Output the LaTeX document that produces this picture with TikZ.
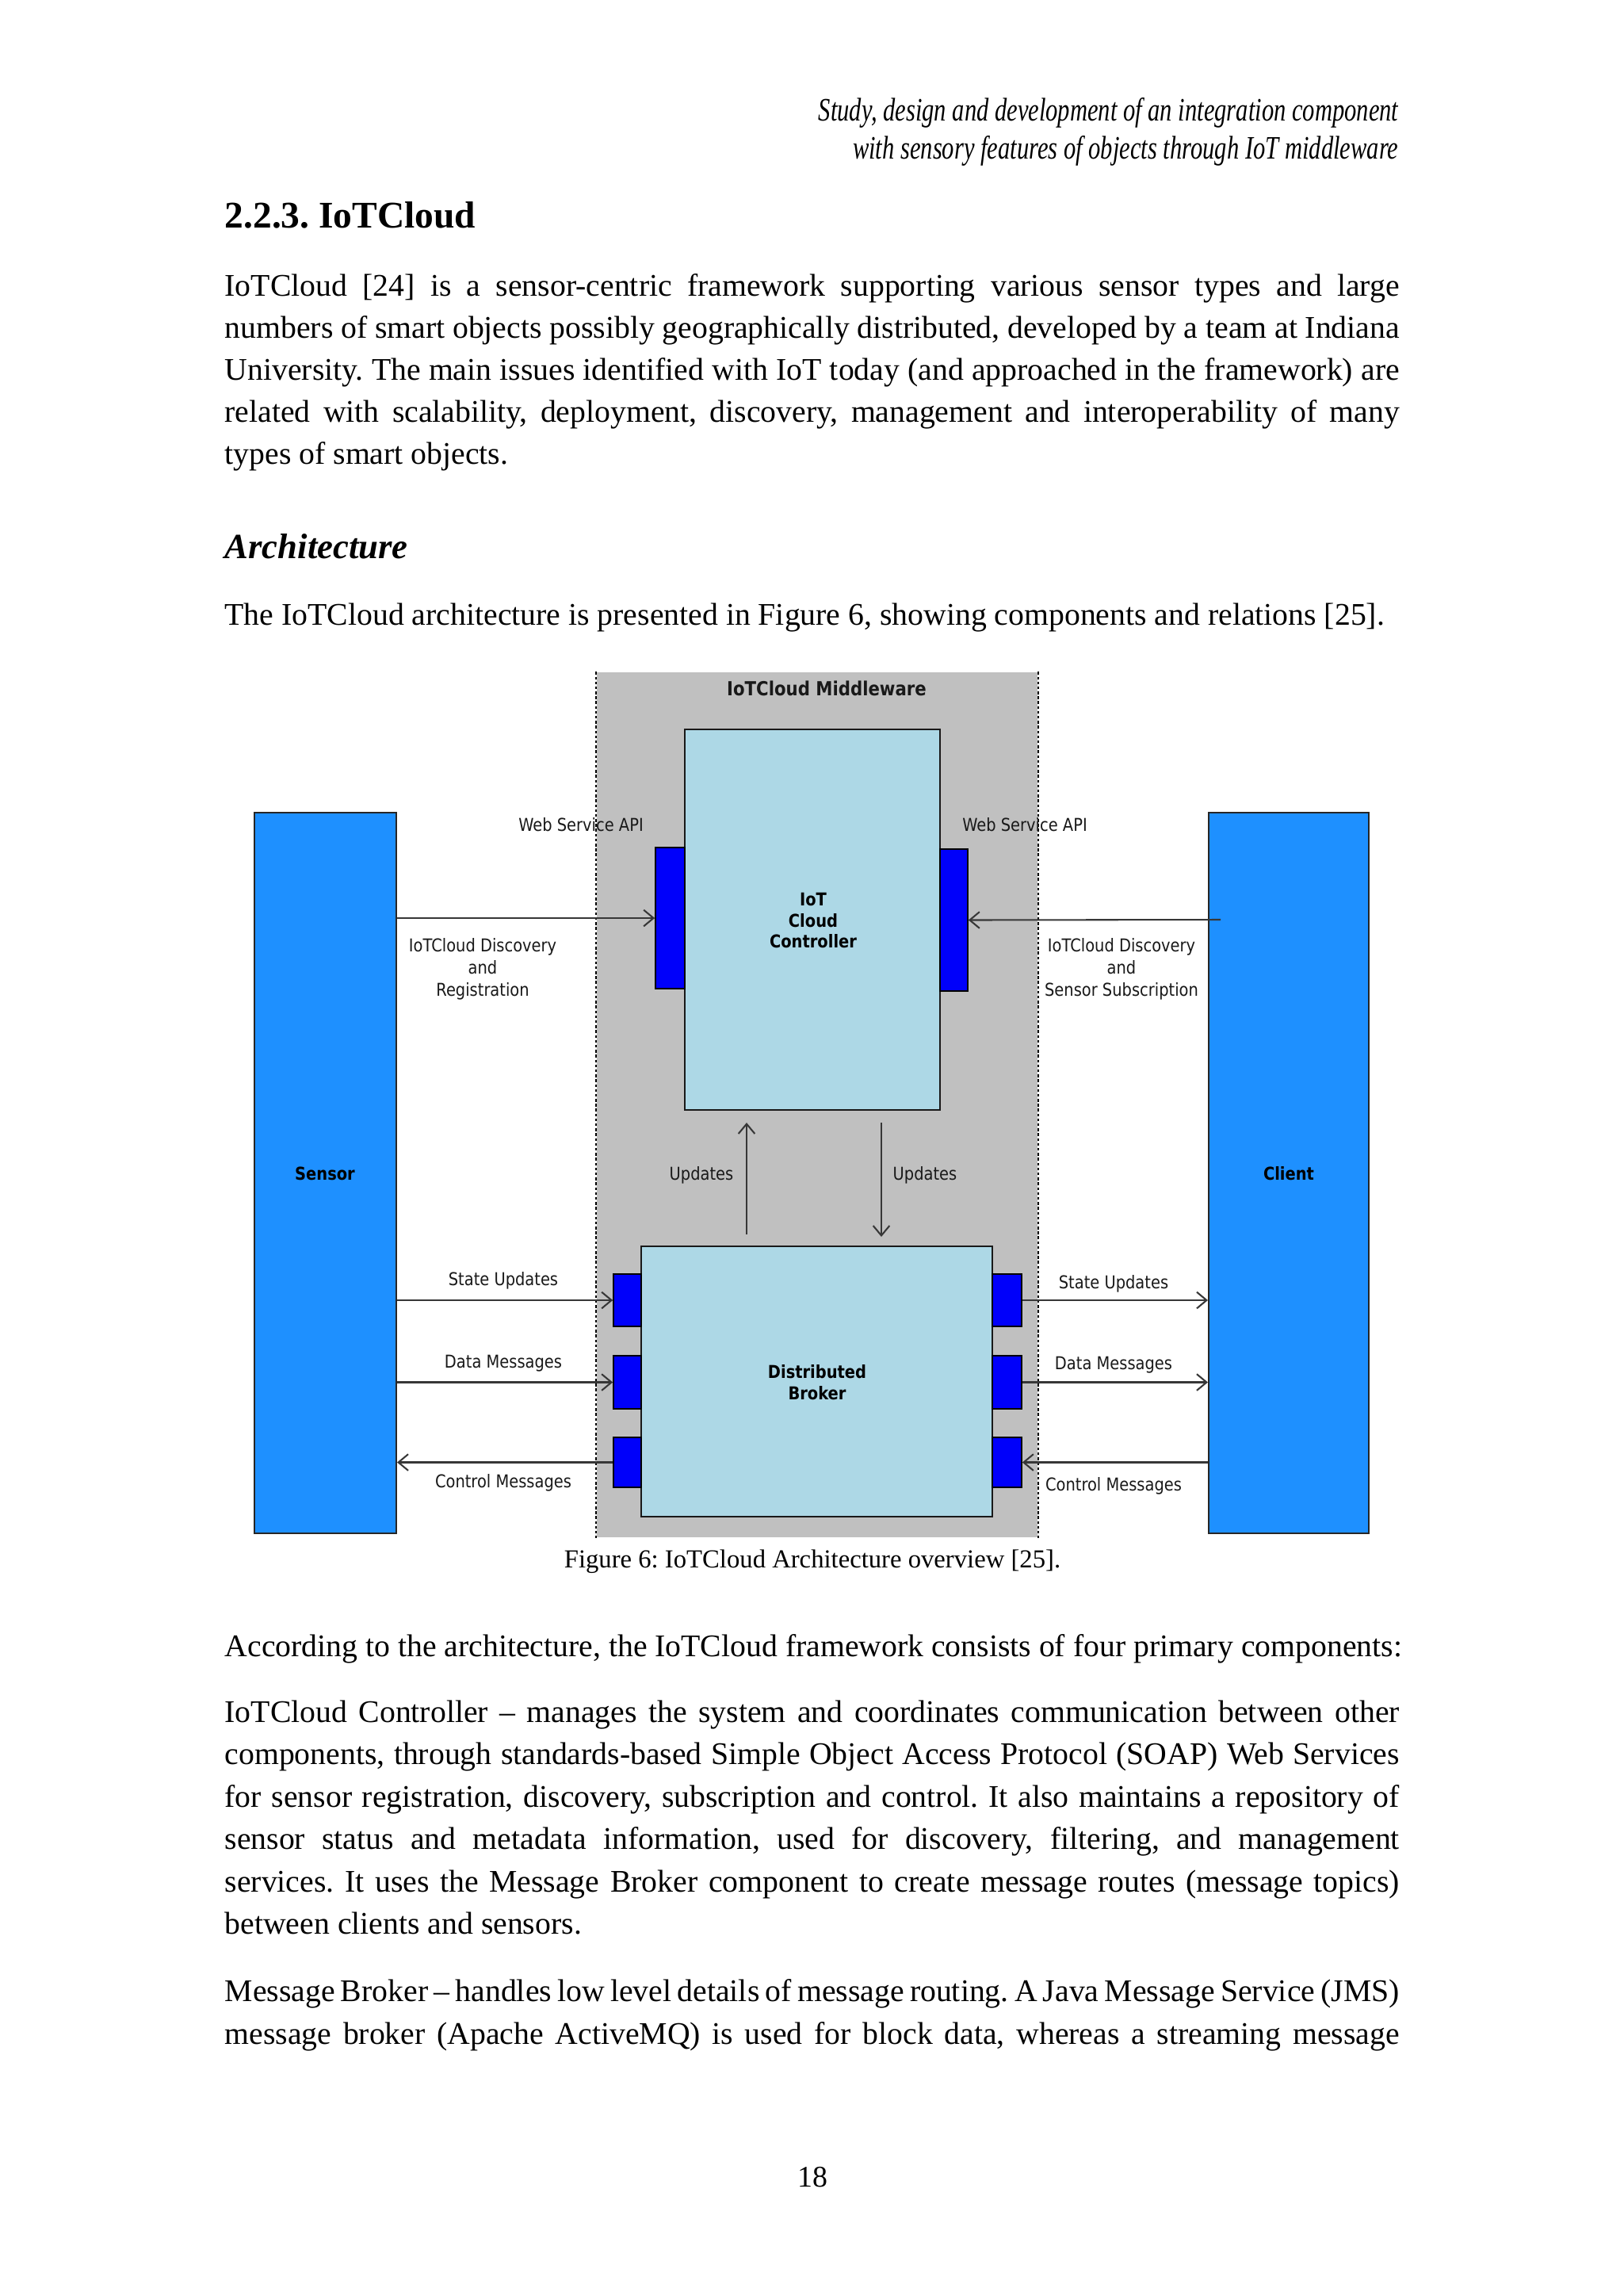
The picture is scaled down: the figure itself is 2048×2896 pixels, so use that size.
\documentclass[tikz,border=0pt]{standalone}
\usepackage{fontspec}
\setmainfont{Liberation Serif}
\newfontfamily\hdrfont[FakeStretch=0.74]{Liberation Serif}
\newfontfamily\dfont[FakeStretch=0.87]{DejaVu Sans}
\usetikzlibrary{arrows.meta,fit}
\definecolor{mwgray}{RGB}{192,192,192}
\definecolor{boxblue}{RGB}{173,216,230}
\definecolor{portblue}{RGB}{0,0,250}
\definecolor{devblue}{RGB}{30,144,255}
\definecolor{linegray}{RGB}{55,55,55}
\newcommand{\myjust}[1]{\makebox[430.8pt][s]{#1}}
\frenchspacing
\tikzset{
  body/.style={anchor=base west, inner sep=0pt, font=\fontsize{11.55}{14}\selectfont},
  devbox/.style={draw=black!85, fill=devblue, inner sep=0pt, line width=0.6pt},
  compbox/.style={draw=black!90, fill=boxblue, inner sep=0pt, line width=0.6pt},
  boxtext/.style={inner sep=0pt, align=center, font=\dfont\bfseries\fontsize{6.5}{7.8}\selectfont},
  portbox/.style={draw=black, fill=portblue, inner sep=0pt, line width=0.5pt},
  lbl/.style={inner sep=0pt, align=center, font=\dfont\fontsize{6.5}{8.1}\selectfont, text=black!90},
  conn/.style={draw=linegray, line width=0.6pt, -{Straight Barb[length=3.6pt,width=6pt,line width=0.6pt]}},
  mwborder/.style={draw=black, line width=0.5pt, dash pattern=on 1pt off 0.8pt}
}
\begin{document}
\begin{tikzpicture}[x=0.29066pt, y=-0.29066pt]
\useasboundingbox (0,0) rectangle (2048,2896);
\fill[white] (0,0) rectangle (2048,2896);

% running header
\node[anchor=base east, inner sep=0pt, font=\hdrfont\itshape\fontsize{12}{14}\selectfont] (hdr1) at (1765,152) {Study, design and development of an integration component};
\node[anchor=base east, inner sep=0pt, font=\hdrfont\itshape\fontsize{12}{14}\selectfont] (hdr2) at (1765,200) {with sensory features of objects through IoT middleware};

% section heading
\node[anchor=base west, inner sep=0pt, font=\bfseries\fontsize{13.8}{16}\selectfont] (sec) at (283,287) {2.2.3. IoTCloud};

% paragraph 1
\node[body] (p1a) at (283,373) {\myjust{IoTCloud [24] is a sensor-centric framework supporting various sensor types and large}};
\node[body] (p1b) at (283,426) {\myjust{numbers of smart objects possibly geographically distributed, developed by a team at Indiana}};
\node[body] (p1c) at (283,479) {\myjust{University. The main issues identified with IoT today (and approached in the framework) are}};
\node[body] (p1d) at (283,532) {\myjust{related with scalability, deployment, discovery, management and interoperability of many}};
\node[body] (p1e) at (283,585) {types of smart objects.};

% sub heading
\node[anchor=base west, inner sep=0pt, font=\bfseries\itshape\fontsize{13}{15}\selectfont] (arch) at (283,704) {Architecture};
\node[body] (p2a) at (283,788) {The IoTCloud architecture is presented in Figure 6, showing components and relations [25].};

% ---------------- diagram ----------------
\node[fit={(753,848) (1309,1939)}, fill=mwgray, inner sep=0pt] (mw) {};
\draw[mwborder] (mw.north west) -- (mw.south west);
\draw[mwborder] (mw.north east) -- (mw.south east);
\node[lbl, font=\dfont\bfseries\fontsize{7.1}{8.5}\selectfont] (mwtitle) at (1043,868) {IoTCloud Middleware};

\node[fit={(321,1025) (500,1934)}, devbox] (sensor) {};
\node[fit={(1525,1025) (1727,1934)}, devbox] (client) {};
\node[fit={(864,920) (1186,1400)}, compbox] (ctrl) {};
\node[fit={(809,1572) (1252,1913)}, compbox] (broker) {};

\node[boxtext] (sensortxt) at (410,1480) {Sensor};
\node[boxtext] (clienttxt) at (1626,1480) {Client};
\node[boxtext] (ctrltxt) at (1026,1161) {IoT\\Cloud\\Controller};
\node[boxtext] (brokertxt) at (1031,1744) {Distributed\\Broker};

\node[fit={(827,1069) (864,1247)}, portbox] (cpl) {};
\node[fit={(1186,1071) (1221,1250)}, portbox] (cpr) {};
\node[fit={(774,1607) (809,1673)}, portbox] (bl1) {};
\node[fit={(774,1710) (809,1777)}, portbox] (bl2) {};
\node[fit={(774,1813) (809,1876)}, portbox] (bl3) {};
\node[fit={(1252,1607) (1289,1673)}, portbox] (br1) {};
\node[fit={(1252,1710) (1289,1777)}, portbox] (br2) {};
\node[fit={(1252,1813) (1289,1876)}, portbox] (br3) {};

% connectors
\coordinate (cin) at (1540,1160);
\coordinate (upA) at (942,1557);
\coordinate (upB) at (942,1416);
\coordinate (dnA) at (1112,1416);
\coordinate (dnB) at (1112,1560);
\draw[conn] (sensor.east |- cpl.west) -- (cpl.west);
\draw[conn] (cin) -- (cpr.east);
\draw[conn] (upA) -- (upB);
\draw[conn] (dnA) -- (dnB);
\draw[conn] (sensor.east |- bl1.west) -- (bl1.west);
\draw[conn] (sensor.east |- bl2.west) -- (bl2.west);
\draw[conn] (bl3.west) -- (sensor.east |- bl3.west);
\draw[conn] (br1.east) -- (client.west |- br1.east);
\draw[conn] (br2.east) -- (client.west |- br2.east);
\draw[conn] (client.west |- br3.east) -- (br3.east);

% labels
\node[lbl] (wsl) at (733,1040) {Web Service API};
\node[lbl] (wsr) at (1293,1040) {Web Service API};
\node[lbl] (discl) at (609,1222) {IoTCloud Discovery\\and\\Registration};
\node[lbl] (discr) at (1415,1222) {IoTCloud Discovery\\and\\Sensor Subscription};
\node[lbl] (updl) at (885,1482) {Updates};
\node[lbl] (updr) at (1167,1482) {Updates};
\node[lbl] (sul) at (635,1615) {State Updates};
\node[lbl] (dml) at (635,1720) {Data Messages};
\node[lbl] (cml) at (635,1870) {Control Messages};
\node[lbl] (sur) at (1405,1619) {State Updates};
\node[lbl] (dmr) at (1405,1722) {Data Messages};
\node[lbl] (cmr) at (1405,1874) {Control Messages};

% caption
\node[anchor=base, inner sep=0pt, font=\fontsize{9.5}{11}\selectfont] (cap) at (1025,1977) {Figure 6: IoTCloud Architecture overview [25].};

% text after figure
\node[body] (p3) at (283,2089) {According to the architecture, the IoTCloud framework consists of four primary components:};
\node[body] (p4a) at (283,2172) {\myjust{IoTCloud Controller – manages the system and coordinates communication between other}};
\node[body] (p4b) at (283,2225) {\myjust{components, through standards-based Simple Object Access Protocol (SOAP) Web Services}};
\node[body] (p4c) at (283,2279) {\myjust{for sensor registration, discovery, subscription and control. It also maintains a repository of}};
\node[body] (p4d) at (283,2332) {\myjust{sensor status and metadata information, used for discovery, filtering, and management}};
\node[body] (p4e) at (283,2386) {\myjust{services. It uses the Message Broker component to create message routes (message topics)}};
\node[body] (p4f) at (283,2439) {between clients and sensors.};
\node[body] (p5a) at (283,2524) {\myjust{Message Broker – handles low level details of message routing. A Java Message Service (JMS)}};
\node[body] (p5b) at (283,2578) {\myjust{message broker (Apache ActiveMQ) is used for block data, whereas a streaming message}};

% page number
\node[anchor=base, inner sep=0pt, font=\fontsize{11}{13}\selectfont] (pg) at (1025,2758) {18};
\end{tikzpicture}
\end{document}
